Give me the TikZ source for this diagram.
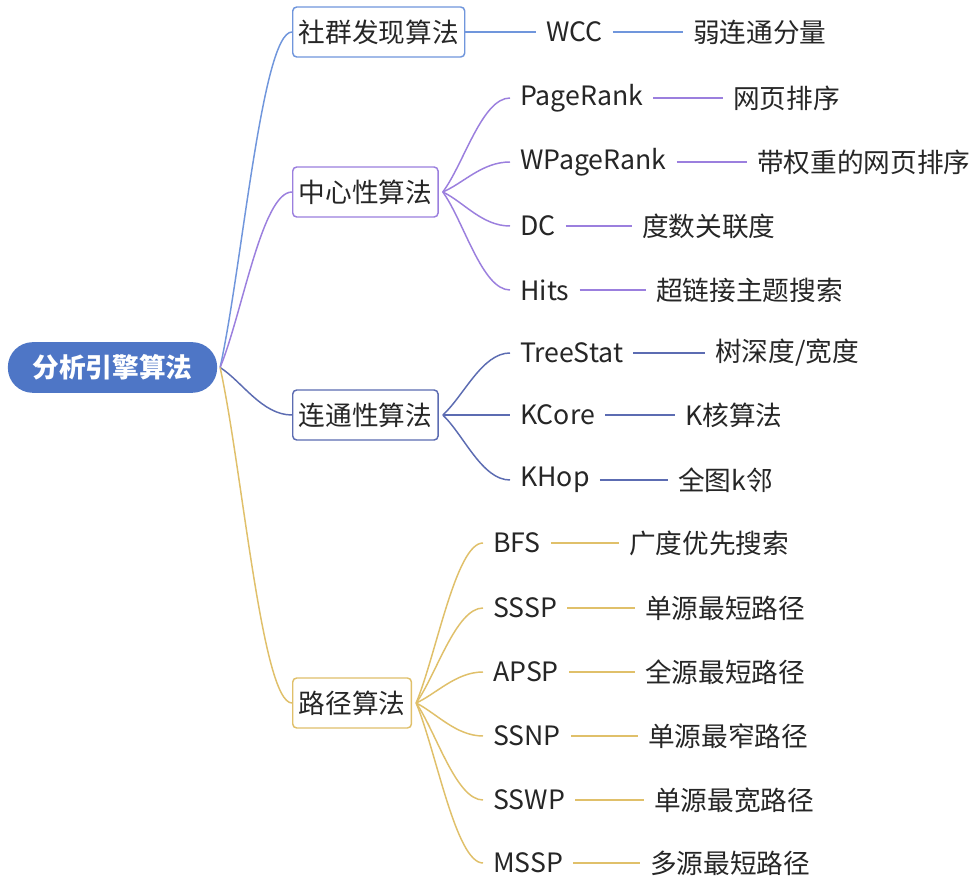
\documentclass[tikz,border=0pt]{standalone}
\usepackage{fontspec}
\setmainfont{Noto Sans CJK SC}
\definecolor{rootblue}{RGB}{78,118,198}
\definecolor{cblue}{RGB}{112,150,220}
\definecolor{cpurple}{RGB}{155,127,222}
\definecolor{cnavy}{RGB}{92,108,178}
\definecolor{cgold}{RGB}{224,192,106}
\definecolor{txt}{RGB}{38,38,38}
\tikzset{
  rootnode/.style={draw=none, fill=rootblue, text=white, rounded corners=18.75pt,
    minimum height=38pt, minimum width=157pt, inner xsep=0pt, font=\fontsize{20}{24}\selectfont\bfseries},
  lonebox/.style={draw, line width=1.1pt, fill=white, rounded corners=3pt, minimum height=37.5pt,
    inner xsep=4.5pt, inner ysep=0pt, anchor=west, text=txt, font=\fontsize{20}{24}\selectfont},
  leaf/.style={inner xsep=7.5pt, inner ysep=0pt, anchor=west, text=txt, font=\fontsize{20}{24}\selectfont},
  conn/.style={line width=1.1pt},
}
\begin{document}
\begin{tikzpicture}[x=0.75pt, y=-0.75pt]
\useasboundingbox[fill=white] (0,0) rectangle (976,880);

% root
\node[rootnode] (root) at (112.5,367.5) {分析引擎算法};

% level 1
\node[lonebox, draw=cblue]   (soc) at (292,32)  {社群发现算法};
\node[lonebox, draw=cpurple] (cen) at (292,192) {中心性算法};
\node[lonebox, draw=cnavy]   (con) at (292,415) {连通性算法};
\node[lonebox, draw=cgold]   (pat) at (292,703) {路径算法};

\coordinate (rs) at ([xshift=2pt]root.east);
\draw[conn, cblue]   (rs) .. controls +(22,-100) and +(-30,0) .. (soc.west);
\draw[conn, cpurple] (rs) .. controls +(22,-53) and +(-30,0) .. (cen.west);
\draw[conn, cnavy]   (rs) .. controls +(22,14) and +(-30,0) .. (con.west);
\draw[conn, cgold]   (rs) .. controls +(22,100) and +(-30,0) .. (pat.west);

% community
\node[leaf] (wcc) at (536,32) {WCC};
\node[leaf] (wccd) at (683,32) {弱连通分量};
\draw[conn, cblue] (soc.east) -- (wcc.west);
\draw[conn, cblue] (wcc.east) -- (wccd.west);

% centrality
\node[leaf] (pr)  at (510,98)  {PageRank};
\node[leaf] (wpr) at (510,162) {WPageRank};
\node[leaf] (dc)  at (510,226) {DC};
\node[leaf] (hits) at (510,290) {Hits};
\node[leaf] (prd)  at (723,98)  {网页排序};
\node[leaf] (wprd) at (747,162) {带权重的网页排序};
\node[leaf] (dcd)  at (632,226) {度数关联度};
\node[leaf] (hitsd) at (646,290) {超链接主题搜索};
\coordinate (cs) at ([xshift=3pt]cen.east);
\draw[conn, cpurple] (cs) .. controls +(21,-28) and +(-28,0) .. (pr.west);
\draw[conn, cpurple] (cs) .. controls +(21,-9) and +(-28,0) .. (wpr.west);
\draw[conn, cpurple] (cs) .. controls +(21,10) and +(-28,0) .. (dc.west);
\draw[conn, cpurple] (cs) .. controls +(21,29) and +(-28,0) .. (hits.west);
\draw[conn, cpurple] (pr.east) -- (prd.west);
\draw[conn, cpurple] (wpr.east) -- (wprd.west);
\draw[conn, cpurple] (dc.east) -- (dcd.west);
\draw[conn, cpurple] (hits.east) -- (hitsd.west);

% connectivity
\node[leaf] (ts) at (510,353) {TreeStat};
\node[leaf] (kc) at (510,415) {KCore};
\node[leaf] (kh) at (510,480) {KHop};
\node[leaf] (tsd) at (705,353) {树深度/宽度};
\node[leaf] (kcd) at (675,415) {K核算法};
\node[leaf] (khd) at (668,480) {全图k邻};
\coordinate (ks) at ([xshift=3pt]con.east);
\draw[conn, cnavy] (ks) .. controls +(21,-19) and +(-28,0) .. (ts.west);
\draw[conn, cnavy] (ks) -- (kc.west);
\draw[conn, cnavy] (ks) .. controls +(21,20) and +(-28,0) .. (kh.west);
\draw[conn, cnavy] (ts.east) -- (tsd.west);
\draw[conn, cnavy] (kc.east) -- (kcd.west);
\draw[conn, cnavy] (kh.east) -- (khd.west);

% path
\node[leaf] (bfs)  at (483,543) {BFS};
\node[leaf] (sssp) at (483,608) {SSSP};
\node[leaf] (apsp) at (483,672) {APSP};
\node[leaf] (ssnp) at (483,736) {SSNP};
\node[leaf] (sswp) at (483,800) {SSWP};
\node[leaf] (mssp) at (483,863) {MSSP};
\node[leaf] (bfsd)  at (619,543) {广度优先搜索};
\node[leaf] (ssspd) at (635,608) {单源最短路径};
\node[leaf] (apspd) at (635,672) {全源最短路径};
\node[leaf] (ssnpd) at (638,736) {单源最窄路径};
\node[leaf] (sswpd) at (644,800) {单源最宽路径};
\node[leaf] (msspd) at (640,863) {多源最短路径};
\coordinate (ps) at ([xshift=3pt]pat.east);
\draw[conn, cgold] (ps) .. controls +(20,-48) and +(-27,0) .. (bfs.west);
\draw[conn, cgold] (ps) .. controls +(20,-28) and +(-27,0) .. (sssp.west);
\draw[conn, cgold] (ps) .. controls +(20,-9) and +(-27,0) .. (apsp.west);
\draw[conn, cgold] (ps) .. controls +(20,10) and +(-27,0) .. (ssnp.west);
\draw[conn, cgold] (ps) .. controls +(20,29) and +(-27,0) .. (sswp.west);
\draw[conn, cgold] (ps) .. controls +(20,48) and +(-27,0) .. (mssp.west);
\draw[conn, cgold] (bfs.east) -- (bfsd.west);
\draw[conn, cgold] (sssp.east) -- (ssspd.west);
\draw[conn, cgold] (apsp.east) -- (apspd.west);
\draw[conn, cgold] (ssnp.east) -- (ssnpd.west);
\draw[conn, cgold] (sswp.east) -- (sswpd.west);
\draw[conn, cgold] (mssp.east) -- (msspd.west);
\end{tikzpicture}
\end{document}
